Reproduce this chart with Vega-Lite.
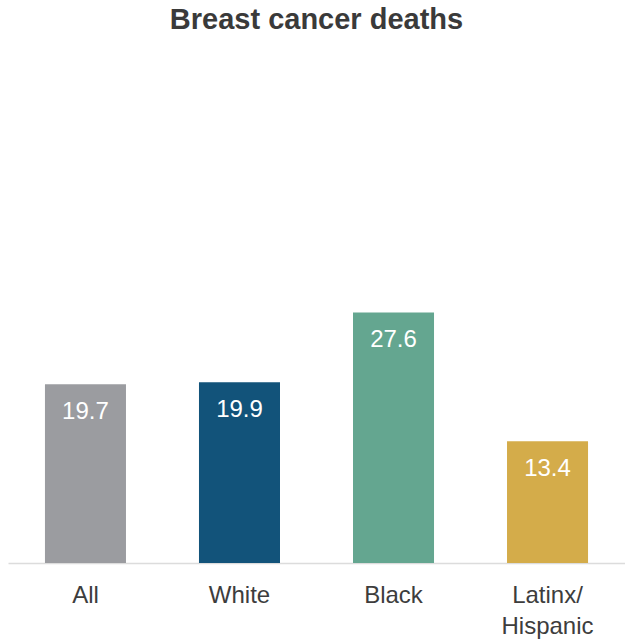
{
  "$schema": "https://vega.github.io/schema/vega-lite/v6.json",
  "width": 617,
  "height": 513,
  "autosize": "none",
  "padding": {"left": 8, "top": 50, "right": 0, "bottom": 78},
  "background": "white",
  "title": {
    "text": "Breast cancer deaths",
    "anchor": "middle",
    "fontSize": 29,
    "font": "Liberation Sans",
    "fontWeight": "bold",
    "color": "#3a3a3a",
    "offset": 15
  },
  "data": {
    "values": [
      {"group": "All", "value": 19.7},
      {"group": "White", "value": 19.9},
      {"group": "Black", "value": 27.6},
      {"group": "Latinx/Hispanic", "value": 13.4}
    ]
  },
  "encoding": {
    "x": {
      "field": "group",
      "type": "nominal",
      "sort": null,
      "scale": {"paddingInner": 0.474, "paddingOuter": 0.24},
      "axis": {
        "title": null,
        "labelAngle": 0,
        "labelFontSize": 24,
        "labelFont": "Liberation Sans",
        "labelColor": "#3d3d3d",
        "labelPadding": 20,
        "labelLineHeight": 31,
        "labelExpr": "datum.value == 'Latinx/Hispanic' ? ['Latinx/', 'Hispanic'] : datum.value",
        "ticks": false,
        "domainColor": "#dcdcdc",
        "domainWidth": 1.5
      }
    },
    "y": {
      "field": "value",
      "type": "quantitative",
      "scale": {"domain": [0, 56.5], "nice": false},
      "axis": null
    }
  },
  "layer": [
    {
      "mark": {"type": "bar"},
      "encoding": {
        "color": {
          "field": "group",
          "type": "nominal",
          "scale": {
            "domain": ["All", "White", "Black", "Latinx/Hispanic"],
            "range": ["#9b9ca0", "#12537a", "#64a690", "#d4ac4a"]
          },
          "legend": null
        }
      }
    },
    {
      "mark": {
        "type": "text",
        "baseline": "alphabetic",
        "dy": 35,
        "fontSize": 24,
        "font": "Liberation Sans",
        "color": "white"
      },
      "encoding": {
        "text": {"field": "value", "type": "quantitative", "format": ".1f"}
      }
    }
  ],
  "config": {"view": {"stroke": null}}
}
